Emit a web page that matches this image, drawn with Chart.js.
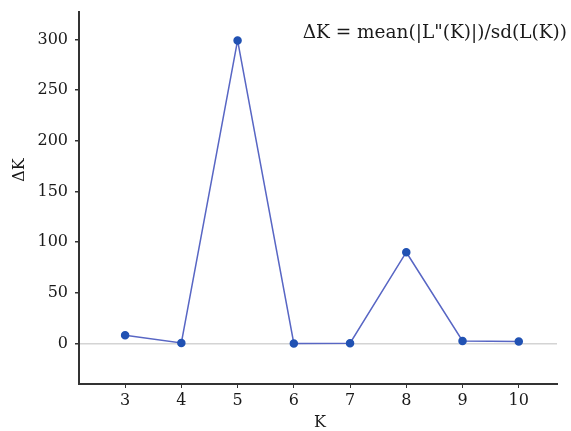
<!DOCTYPE html>
<html><head><meta charset="utf-8">
<script src="https://cdn.jsdelivr.net/npm/chart.js@4"></script>
<style>html,body{margin:0;padding:0;background:#fff}#wrap{width:571px;height:431px;position:relative}</style>
</head><body><div id="wrap"><canvas id="c" width="571" height="431"></canvas></div>
<script>
const kValues = [3, 4, 5, 6, 7, 8, 9, 10];
const deltaK = [8, 0.5, 299, 0, 0.3, 90, 2.5, 2];
const yTickValues = [0, 50, 100, 150, 200, 250, 300];
const xTickValues = [3, 4, 5, 6, 7, 8, 9, 10];
const formulaText = 'ΔK = mean(|L"(K)|)/sd(L(K))';
const yTitle = 'ΔK';
const xTitle = 'K';

const FONT = '"DejaVu Serif", serif';

const textPlugin = {
  id: 'texts',
  afterDraw(chart) {
    const ctx = chart.ctx;
    ctx.save();
    ctx.fillStyle = '#1a1a1a';
    ctx.font = '18.5px ' + FONT;
    ctx.textAlign = 'right';
    ctx.textBaseline = 'middle';
    ctx.fillText(formulaText, 567, 33);
    ctx.font = '16px ' + FONT;
    ctx.textAlign = 'center';
    ctx.fillText(xTitle, 320, 423);
    ctx.translate(20, 170);
    ctx.rotate(-Math.PI / 2);
    ctx.fillText(yTitle, 0, 0);
    ctx.restore();
  }
};

new Chart(document.getElementById('c'), {
  type: 'line',
  data: {
    datasets: [{
      data: kValues.map((k, i) => ({x: k, y: deltaK[i]})),
      borderColor: '#5866c4',
      borderWidth: 1.5,
      pointBackgroundColor: '#2152b3',
      pointBorderColor: '#2152b3',
      pointRadius: 3.5,
      tension: 0
    }]
  },
  options: {
    responsive: false,
    animation: false,
    layout: {padding: {left: 0, top: 12, right: 14, bottom: 0}},
    plugins: {legend: {display: false}, tooltip: {enabled: false}},
    scales: {
      x: {
        type: 'linear',
        min: 2.18, max: 10.68,
        afterBuildTicks: s => { s.ticks = xTickValues.map(v => ({value: v})); },
        afterFit: s => { s.height = 47; s.paddingLeft = 0; s.paddingRight = 0; },
        border: {color: '#333', width: 2},
        grid: {display: true, drawOnChartArea: false, tickLength: 4, color: '#333'},
        ticks: {color: '#1a1a1a', font: {family: FONT, size: 16}, padding: 3, maxRotation: 0}
      },
      y: {
        min: -40, max: 327,
        afterBuildTicks: s => { s.ticks = yTickValues.map(v => ({value: v})); },
        afterFit: s => { s.width = 79; s.paddingTop = 0; s.paddingBottom = 0; },
        border: {color: '#333', width: 2},
        grid: {
          color: c => c.tick && c.tick.value === 0 ? '#d4d4d4' : 'rgba(0,0,0,0)',
          tickColor: '#333',
          tickLength: 4,
          lineWidth: 1.5
        },
        ticks: {color: '#1a1a1a', font: {family: FONT, size: 16}, padding: 7}
      }
    }
  },
  plugins: [textPlugin]
});
</script></body></html>
